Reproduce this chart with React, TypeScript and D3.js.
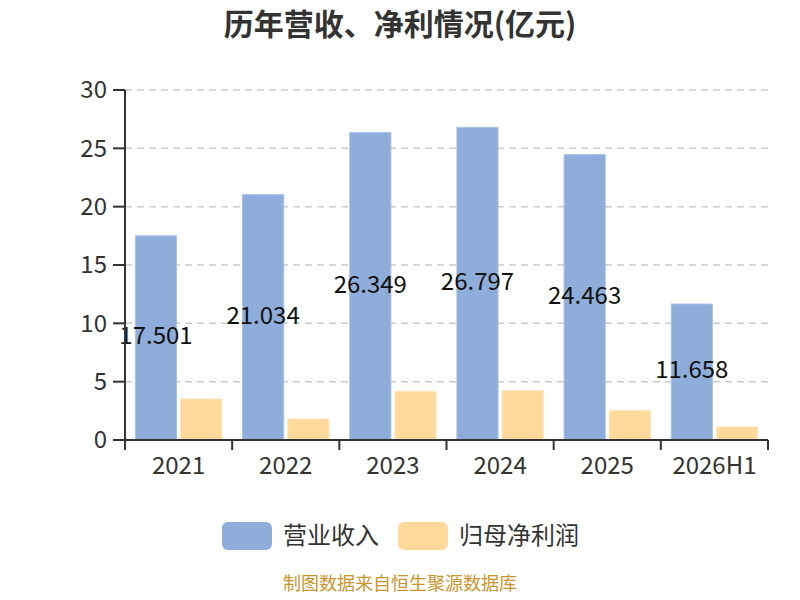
import React from "react";
import * as d3 from "d3";

const categories = ["2021", "2022", "2023", "2024", "2025", "2026H1"];
const revenue = [17.501, 21.034, 26.349, 26.797, 24.463, 11.658];
const netProfit = [3.51, 1.8, 4.17, 4.23, 2.51, 1.11];
const yTicks = [0, 5, 10, 15, 20, 25, 30];
const seriesNames = ["营业收入", "归母净利润"];
const colors = ["#8eadda", "#fed99a"];

const W = 800;
const H = 600;
const left = 125;
const right = 768;
const top = 90;
const bottom = 440;
const FONT = "'Noto Sans CJK SC', 'Noto Sans', sans-serif";

export default function App() {
  const x = d3.scaleBand<string>().domain(categories).range([left, right]).paddingInner(0).paddingOuter(0);
  const y = d3.scaleLinear().domain([0, 30]).range([bottom, top]);
  const bw = x.bandwidth();
  const barW = bw * 0.384;
  const gap = bw * 0.038;
  const offset = (bw - 2 * barW - gap) / 2;

  return (
    <svg width={W} height={H} style={{ position: "absolute", left: 0, top: 0, fontFamily: FONT }}>
      <rect x={0} y={0} width={W} height={H} fill="#fff" />
      <text x={400} y={35} textAnchor="middle" fontSize={30} fontWeight="bold" fill="#333">
        历年营收、净利情况(亿元)
      </text>
      {yTicks.map((t) => (
        <g key={t}>
          {t !== 0 && (
            <line x1={left} x2={right} y1={y(t)} y2={y(t)} stroke="#ccc" strokeWidth={1.5} strokeDasharray="7,5" />
          )}
          <line x1={left - 12} x2={left} y1={y(t)} y2={y(t)} stroke="#333" strokeWidth={2} />
          <text x={left - 18} y={y(t)} dy="0.35em" textAnchor="end" fontSize={24} fill="#333">
            {t}
          </text>
        </g>
      ))}
      {categories.map((c, i) => {
        const x0 = x(c)! + offset;
        return (
          <g key={c}>
            <rect x={x0} y={y(revenue[i])} width={barW} height={bottom - y(revenue[i])} fill={colors[0]} stroke="#a9c1e3" strokeWidth={1} />
            <rect x={x0 + barW + gap} y={y(netProfit[i])} width={barW} height={bottom - y(netProfit[i])} fill={colors[1]} stroke="#fee4b8" strokeWidth={1} />
          </g>
        );
      })}
      {categories.map((c, i) => {
        const cx = x(c)! + offset + barW / 2;
        const cy = (y(revenue[i]) + bottom) / 2;
        return (
          <text key={c} x={cx} y={cy - 2} dy="0.35em" textAnchor="middle" fontSize={24} fill="#111">
            {revenue[i].toFixed(3)}
          </text>
        );
      })}
      <line x1={left} x2={left} y1={top} y2={bottom} stroke="#333" strokeWidth={2} />
      <line x1={left} x2={right} y1={bottom} y2={bottom} stroke="#333" strokeWidth={2} />
      {[...categories.map((c) => x(c)!), right].map((v, i) => (
        <line key={i} x1={v} x2={v} y1={bottom} y2={bottom + 10} stroke="#333" strokeWidth={2} />
      ))}
      {categories.map((c) => (
        <text key={c} x={x(c)! + bw / 2} y={466} dy="0.35em" textAnchor="middle" fontSize={24} fill="#333">
          {c}
        </text>
      ))}
      {seriesNames.map((n, i) => {
        const lx = i === 0 ? 222 : 398;
        return (
          <g key={n}>
            <rect x={lx} y={522} width={50} height={28} rx={6} fill={colors[i]} />
            <text x={lx + 61} y={536} dy="0.35em" fontSize={24} fill="#333">
              {n}
            </text>
          </g>
        );
      })}
      <text x={400} y={590} textAnchor="middle" fontSize={18} fill="#c9952e">
        制图数据来自恒生聚源数据库
      </text>
    </svg>
  );
}
